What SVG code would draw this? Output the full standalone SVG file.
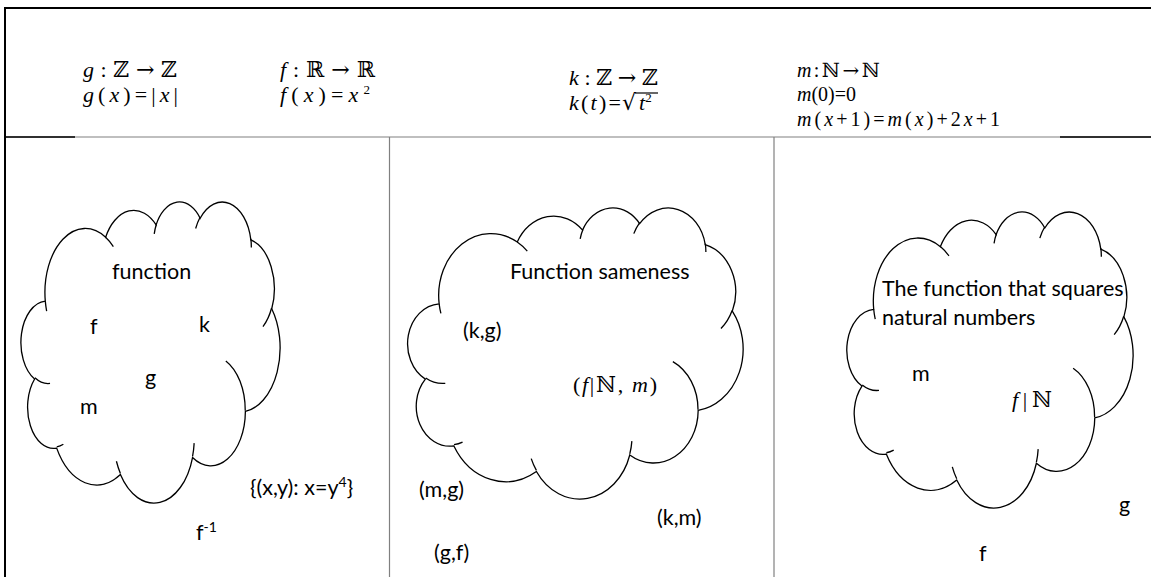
<svg xmlns="http://www.w3.org/2000/svg" width="1151" height="577" viewBox="0 0 1151 577">
<style>
.math{font-family:"Liberation Serif","DejaVu Serif",serif;font-size:22px;fill:#000}
.mathS{font-size:20px}
.it{font-style:italic}
.ds{font-family:"DejaVu Serif",serif;font-style:normal}
.lbl{font-family:Lato,"Liberation Sans",sans-serif;font-size:21.5px;fill:#000}
.cl{fill:#fff;stroke:#000;stroke-width:1.3;vector-effect:non-scaling-stroke}
.in{fill:none;stroke:#000;stroke-width:1.3;vector-effect:non-scaling-stroke}
.frame{stroke:#000;stroke-width:2;fill:none}
.grid{stroke:#808080;stroke-width:1.2;fill:none}
</style>
<defs>
<g id="cloud">
<path class="cl" d="M39,143.7 A67.53,91.9 0 0 1 140.05,52.02 A53.33,72.67 0 0 1 224.56,34.32 A43.65,59.45 0 0 1 298.33,24.8 A48.57,65.95 0 0 1 383.18,55.76 A53.33,72.73 0 0 1 418.19,154.59 A67.75,92.2 0 0 1 374.04,302.03 A57.85,78.67 0 0 1 285.56,368.13 A67.52,92.15 0 0 1 164.81,392.64 A77.2,105.43 0 0 1 58.05,354.7 A43.6,59.18 0 0 1 21.14,255.48 A43.45,59.45 0 0 1 39,143.7 Z"/>
<path class="in" d="M46.93,261.77 A43.45,59.45 0 0 1 21.6,253.8 M69.28,348.99 A43.6,59.18 0 0 1 58.2,352.8 M164.78,390.9 A67.52,92.15 0 0 1 158.1,373.5 M288.27,347.51 A67.52,92.15 0 0 1 285.6,366.6 M341.29,229.54 A57.85,78.67 0 0 1 373.8,300.9 M417.98,153.54 A53.33,72.73 0 0 1 403.5,180.3 M383.24,54.26 A48.57,65.95 0 0 1 384,66.9 M290.78,39.52 A48.57,65.95 0 0 1 298.2,23.4 M221.41,47.2 A43.65,59.45 0 0 1 225,33.3 M140,51.92 A67.53,91.9 0 0 1 153,65.41 M41.27,157.89 A67.53,91.9 0 0 1 39,143.71"/>
</g>
</defs>
<rect width="1151" height="577" fill="#fff"/>
<g id="frame">
<line class="grid" x1="5" y1="137" x2="1151" y2="137"/>
<line class="frame" x1="5" y1="137" x2="75" y2="137" style="stroke-width:1.5"/>
<line class="frame" x1="1060" y1="137" x2="1151" y2="137" style="stroke-width:1.5"/>
<line class="grid" x1="389.5" y1="137" x2="389.5" y2="577"/>
<line class="grid" x1="774" y1="137" x2="774" y2="577"/>
<line class="frame" x1="4" y1="8" x2="1151" y2="8"/>
<line class="frame" x1="5" y1="7" x2="5" y2="577"/>
</g>
<g id="header">
<g id="def-g">
<text class="math" x="83" y="77" textLength="94" lengthAdjust="spacing"><tspan class="it">g</tspan>:<tspan class="ds">ℤ→ℤ</tspan></text>
<text class="math" x="83" y="102" textLength="95" lengthAdjust="spacing"><tspan class="it">g</tspan>(<tspan class="it">x</tspan>)=|<tspan class="it">x</tspan>|</text>
</g>
<g id="def-f">
<text class="math" x="280" y="77" textLength="95" lengthAdjust="spacing"><tspan class="it">f</tspan>:<tspan class="ds">ℝ→ℝ</tspan></text>
<text class="math" x="280" y="102" textLength="90" lengthAdjust="spacing"><tspan class="it">f</tspan>(<tspan class="it">x</tspan>)=<tspan class="it">x</tspan><tspan font-size="13" dy="-8">2</tspan></text>
</g>
<g id="def-k">
<text class="math" x="569" y="85" textLength="89" lengthAdjust="spacing"><tspan class="it">k</tspan>:<tspan class="ds">ℤ→ℤ</tspan></text>
<text class="math" x="569" y="110" textLength="52" lengthAdjust="spacing"><tspan class="it">k</tspan>(<tspan class="it">t</tspan>)=</text>
<text class="math" x="622" y="110"><tspan class="ds">√</tspan></text>
<text class="math" x="639" y="110"><tspan class="it">t</tspan><tspan font-size="13" dy="-8">2</tspan></text>
<line x1="635" y1="93" x2="658" y2="93" stroke="#000" stroke-width="1.2"/>
</g>
<g id="def-m">
<text class="math mathS" x="797" y="77" textLength="83" lengthAdjust="spacing"><tspan class="it">m</tspan>:<tspan class="ds">ℕ→ℕ</tspan></text>
<text class="math mathS" x="797" y="101" textLength="59" lengthAdjust="spacing"><tspan class="it">m</tspan>(0)=0</text>
<text class="math mathS" x="797" y="126" textLength="203" lengthAdjust="spacing"><tspan class="it">m</tspan>(<tspan class="it">x</tspan>+1)=<tspan class="it">m</tspan>(<tspan class="it">x</tspan>)+2<tspan class="it">x</tspan>+1</text>
</g>
</g>
<g id="connectors"/>
<g id="cloud-function">
<use href="#cloud" transform="translate(22,201) scale(0.5972,0.6968)"/>
<text class="lbl" x="112" y="279">function</text>
<text class="lbl" x="90" y="334">f</text>
<text class="lbl" x="199" y="332">k</text>
<text class="lbl" x="145" y="385">g</text>
<text class="lbl" x="80" y="414">m</text>
</g>
<g id="outside-function">
<text class="lbl" x="250" y="495">{(x,y): x=y<tspan font-size="14" dy="-8">4</tspan><tspan dy="8">}</tspan></text>
<text class="lbl" x="196" y="540">f<tspan font-size="14" dy="-8">-1</tspan></text>
</g>
<g id="cloud-sameness">
<use href="#cloud" transform="translate(409,207) scale(0.7731,0.6736)"/>
<text class="lbl" x="510" y="279">Function sameness</text>
<text class="lbl" x="463" y="338">(k,g)</text>
<text class="math" x="573" y="392" textLength="84" lengthAdjust="spacing">(<tspan class="it">f</tspan>|<tspan class="ds">ℕ</tspan>, <tspan class="it">m</tspan>)</text>
</g>
<g id="outside-sameness">
<text class="lbl" x="419" y="497">(m,g)</text>
<text class="lbl" x="657" y="525">(k,m)</text>
<text class="lbl" x="434" y="560">(g,f)</text>
</g>
<g id="cloud-squares">
<use href="#cloud" transform="translate(848,211) scale(0.6597,0.6852)"/>
<text class="lbl" x="882" y="296">The function that squares</text>
<text class="lbl" x="882" y="325">natural numbers</text>
<text class="lbl" x="912" y="381">m</text>
<text class="math" x="1012" y="407" textLength="40" lengthAdjust="spacing"><tspan class="it">f</tspan>|<tspan class="ds">ℕ</tspan></text>
</g>
<g id="outside-squares">
<text class="lbl" x="1119" y="512">g</text>
<text class="lbl" x="979" y="561">f</text>
</g>
</svg>
